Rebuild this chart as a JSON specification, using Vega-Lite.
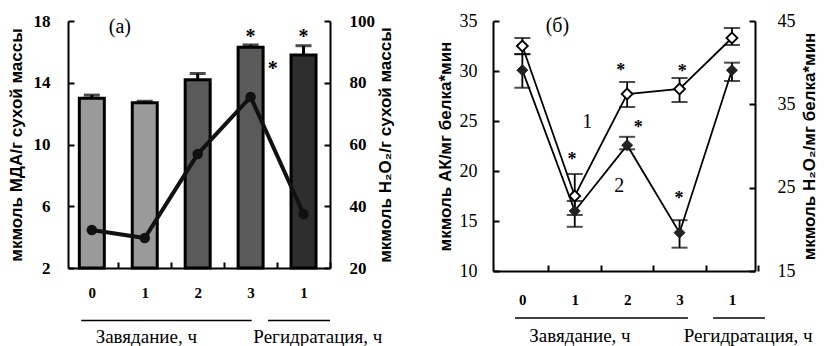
{
  "$schema": "https://vega.github.io/schema/vega-lite/v6.json",
  "background": "white",
  "padding": {"left": 6, "top": 12, "right": 2, "bottom": 0},
  "spacing": 42,
  "config": {
    "view": {"stroke": null},
    "font": "Liberation Serif",
    "axis": {"grid": false, "domainColor": "black", "tickColor": "black", "labelColor": "black", "titleColor": "black", "domainWidth": 2, "tickWidth": 2, "labelFlush": false}
  },
  "datasets": {
    "mda": [
      {"t": 0, "mda": 13.0, "hi": 13.2, "h2o2": 32.3},
      {"t": 1, "mda": 12.7, "hi": 12.8, "h2o2": 29.7},
      {"t": 2, "mda": 14.2, "hi": 14.6, "h2o2": 56.9},
      {"t": 3, "mda": 16.3, "hi": 16.45, "h2o2": 75.4},
      {"t": 4, "mda": 15.8, "hi": 16.4, "h2o2": 37.5}
    ],
    "starsA": [
      {"t": 3, "y": 17.3},
      {"t": 4, "y": 17.3},
      {"t": 3.42, "y": 15.2}
    ],
    "labelsA": [
      {"t": 0.53, "y": 17.6, "label": "(а)"}
    ],
    "groupsA": [
      {"x1": -0.2, "x2": 3.02, "y": -1.4},
      {"x1": 3.33, "x2": 4.5, "y": -1.4}
    ],
    "groupTextA": [
      {"t": 1.03, "y": -2.45, "label": "Завядание, ч"},
      {"t": 4.27, "y": -2.45, "label": "Регидратация, ч"}
    ],
    "s1": [
      {"t": 0, "v": 32.5, "lo": 31.7, "hi": 33.3},
      {"t": 1, "v": 17.5, "lo": 15.6, "hi": 19.7},
      {"t": 2, "v": 27.7, "lo": 26.4, "hi": 28.9},
      {"t": 3, "v": 28.2, "lo": 26.9, "hi": 29.3},
      {"t": 4, "v": 33.3, "lo": 32.6, "hi": 34.3}
    ],
    "s2": [
      {"t": 0, "v": 39.1, "lo": 37.0, "hi": 41.0},
      {"t": 1, "v": 22.2, "lo": 20.3, "hi": 23.4},
      {"t": 2, "v": 30.1, "lo": 29.6, "hi": 31.1},
      {"t": 3, "v": 19.6, "lo": 17.8, "hi": 21.1},
      {"t": 4, "v": 39.1, "lo": 37.8, "hi": 40.0}
    ],
    "starsB": [
      {"t": 0.95, "y": 21.6},
      {"t": 1.88, "y": 30.5},
      {"t": 2.21, "y": 24.8},
      {"t": 3.05, "y": 30.4},
      {"t": 2.99, "y": 17.7}
    ],
    "labelsB": [
      {"t": 0.67, "y": 34.5, "label": "(б)"},
      {"t": 1.24, "y": 24.9, "label": "1"},
      {"t": 1.85, "y": 18.5, "label": "2"}
    ],
    "groupsB": [
      {"x1": -0.14, "x2": 3.16, "y": 5.3},
      {"x1": 3.64, "x2": 4.63, "y": 5.3}
    ],
    "groupTextB": [
      {"t": 1.10, "y": 3.5, "label": "Завядание, ч"},
      {"t": 4.31, "y": 3.5, "label": "Регидратация, ч"}
    ]
  },
  "hconcat": [
    {
      "width": 262,
      "height": 247,
      "layer": [
        {
          "data": {"name": "mda"},
          "mark": {"type": "bar", "size": 25, "stroke": "black", "strokeWidth": 3},
          "encoding": {
            "x": {"field": "t", "type": "quantitative", "scale": {"domain": [-0.45, 4.5], "nice": false, "zero": false, "padding": 0},
              "axis": {"values": [0, 1, 2, 3, 4], "labelExpr": "datum.value == 4 ? '1' : datum.label", "tickOffset": 26.5, "labelOffset": -26.5, "tickSize": -6, "labelFontSize": 15, "labelFontWeight": "bold", "labelPadding": 23, "title": null}},
            "y": {"field": "mda", "type": "quantitative", "scale": {"domain": [2, 18], "nice": false, "zero": false},
              "axis": {"values": [2, 6, 10, 14, 18], "tickSize": -6, "labelFontSize": 17, "labelFontWeight": "bold", "labelPadding": 24, "title": "мкмоль МДА/г сухой массы", "titleFont": "Liberation Sans", "titleFontSize": 17, "titleFontWeight": "bold", "titlePadding": 8}},
            "y2": {"datum": 2},
            "fill": {"condition": [{"test": "datum.t >= 4", "value": "#2e2e2e"}, {"test": "datum.t >= 2", "value": "#5a5a5a"}], "value": "#9a9a9a"}
          }
        },
        {
          "data": {"name": "mda"},
          "mark": {"type": "rule", "strokeWidth": 3, "color": "black"},
          "encoding": {
            "x": {"field": "t", "type": "quantitative"},
            "y": {"field": "mda", "type": "quantitative", "scale": {"domain": [2, 18], "nice": false, "zero": false}, "axis": null},
            "y2": {"field": "hi"}
          }
        },
        {
          "data": {"name": "mda"},
          "mark": {"type": "tick", "orient": "horizontal", "size": 16, "thickness": 3, "color": "black"},
          "encoding": {
            "x": {"field": "t", "type": "quantitative"},
            "y": {"field": "hi", "type": "quantitative", "scale": {"domain": [2, 18], "nice": false, "zero": false}, "axis": null}
          }
        },
        {
          "data": {"name": "starsA"},
          "mark": {"type": "text", "text": "*", "fontSize": 20, "fontWeight": "bold", "baseline": "middle", "dy": 5, "color": "black"},
          "encoding": {
            "x": {"field": "t", "type": "quantitative"},
            "y": {"field": "y", "type": "quantitative", "scale": {"domain": [2, 18], "nice": false, "zero": false}, "axis": null}
          }
        },
        {
          "data": {"name": "labelsA"},
          "mark": {"type": "text", "fontSize": 20, "baseline": "middle", "color": "black"},
          "encoding": {
            "x": {"field": "t", "type": "quantitative"},
            "y": {"field": "y", "type": "quantitative", "scale": {"domain": [2, 18], "nice": false, "zero": false}, "axis": null},
            "text": {"field": "label"}
          }
        },
        {
          "data": {"name": "groupsA"},
          "mark": {"type": "rule", "strokeWidth": 1.5, "color": "black"},
          "encoding": {
            "x": {"field": "x1", "type": "quantitative"},
            "x2": {"field": "x2"},
            "y": {"field": "y", "type": "quantitative", "scale": {"domain": [2, 18], "nice": false, "zero": false}, "axis": null}
          }
        },
        {
          "data": {"name": "groupTextA"},
          "mark": {"type": "text", "fontSize": 19, "baseline": "middle", "color": "black"},
          "encoding": {
            "x": {"field": "t", "type": "quantitative"},
            "y": {"field": "y", "type": "quantitative", "scale": {"domain": [2, 18], "nice": false, "zero": false}, "axis": null},
            "text": {"field": "label"}
          }
        },
        {
          "data": {"name": "mda"},
          "mark": {"type": "line", "strokeWidth": 4, "color": "#111"},
          "encoding": {
            "x": {"field": "t", "type": "quantitative"},
            "y": {"field": "h2o2", "type": "quantitative", "scale": {"domain": [20, 100], "nice": false, "zero": false},
              "axis": {"orient": "right", "values": [20, 40, 60, 80, 100], "tickSize": -6, "labelFontSize": 17, "labelFontWeight": "bold", "labelPadding": 25, "title": "мкмоль H₂O₂/г сухой массы", "titleAngle": 270, "titleBaseline": "top", "titleFont": "Liberation Sans", "titleFontSize": 17, "titleFontWeight": "bold", "titlePadding": 3}}
          }
        },
        {
          "data": {"name": "mda"},
          "mark": {"type": "point", "shape": "circle", "filled": true, "size": 110, "color": "#111", "opacity": 1},
          "encoding": {
            "x": {"field": "t", "type": "quantitative"},
            "y": {"field": "h2o2", "type": "quantitative", "scale": {"domain": [20, 100], "nice": false, "zero": false}, "axis": null}
          }
        }
      ],
      "resolve": {"scale": {"y": "independent"}}
    },
    {
      "width": 262,
      "height": 250,
      "layer": [
        {
          "data": {"name": "s1"},
          "mark": {"type": "line", "strokeWidth": 1.8, "color": "black"},
          "encoding": {
            "x": {"field": "t", "type": "quantitative", "scale": {"domain": [-0.56, 4.44], "nice": false, "zero": false, "padding": 0},
              "axis": {"values": [0, 1, 2, 3, 4], "labelExpr": "datum.value == 4 ? '1' : datum.label", "tickOffset": 26, "labelOffset": -26, "tickSize": -6, "labelFontSize": 15, "labelFontWeight": "bold", "labelPadding": 27, "title": null}},
            "y": {"field": "v", "type": "quantitative", "scale": {"domain": [10, 35], "nice": false, "zero": false},
              "axis": {"values": [10, 15, 20, 25, 30, 35], "tickSize": -6, "labelFontSize": 18, "labelPadding": 22, "title": "мкмоль АК/мг белка*мин", "titleFont": "Liberation Sans", "titleFontSize": 17, "titleFontWeight": "bold", "titlePadding": 5}}
          }
        },
        {
          "data": {"name": "s1"},
          "mark": {"type": "rule", "strokeWidth": 1.8, "color": "black"},
          "encoding": {
            "x": {"field": "t", "type": "quantitative"},
            "y": {"field": "lo", "type": "quantitative", "scale": {"domain": [10, 35], "nice": false, "zero": false}, "axis": null},
            "y2": {"field": "hi"}
          }
        },
        {
          "data": {"name": "s1"},
          "mark": {"type": "tick", "orient": "horizontal", "size": 16, "thickness": 2, "color": "black"},
          "encoding": {
            "x": {"field": "t", "type": "quantitative"},
            "y": {"field": "lo", "type": "quantitative", "scale": {"domain": [10, 35], "nice": false, "zero": false}, "axis": null}
          }
        },
        {
          "data": {"name": "s1"},
          "mark": {"type": "tick", "orient": "horizontal", "size": 16, "thickness": 2, "color": "black"},
          "encoding": {
            "x": {"field": "t", "type": "quantitative"},
            "y": {"field": "hi", "type": "quantitative", "scale": {"domain": [10, 35], "nice": false, "zero": false}, "axis": null}
          }
        },
        {
          "data": {"name": "s2"},
          "mark": {"type": "line", "strokeWidth": 1.8, "color": "black"},
          "encoding": {
            "x": {"field": "t", "type": "quantitative"},
            "y": {"field": "v", "type": "quantitative", "scale": {"domain": [15, 45], "nice": false, "zero": false},
              "axis": {"orient": "right", "values": [15, 25, 35, 45], "tickSize": -6, "labelFontSize": 18, "labelPadding": 28, "title": "мкмоль H₂O₂/мг белка*мин", "titleAngle": 270, "titleBaseline": "top", "titleFont": "Liberation Sans", "titleFontSize": 17, "titleFontWeight": "bold", "titlePadding": 6}}
          }
        },
        {
          "data": {"name": "s2"},
          "mark": {"type": "rule", "strokeWidth": 1.8, "color": "black"},
          "encoding": {
            "x": {"field": "t", "type": "quantitative"},
            "y": {"field": "lo", "type": "quantitative", "scale": {"domain": [15, 45], "nice": false, "zero": false}, "axis": null},
            "y2": {"field": "hi"}
          }
        },
        {
          "data": {"name": "s2"},
          "mark": {"type": "tick", "orient": "horizontal", "size": 16, "thickness": 2, "color": "black"},
          "encoding": {
            "x": {"field": "t", "type": "quantitative"},
            "y": {"field": "lo", "type": "quantitative", "scale": {"domain": [15, 45], "nice": false, "zero": false}, "axis": null}
          }
        },
        {
          "data": {"name": "s2"},
          "mark": {"type": "tick", "orient": "horizontal", "size": 16, "thickness": 2, "color": "black"},
          "encoding": {
            "x": {"field": "t", "type": "quantitative"},
            "y": {"field": "hi", "type": "quantitative", "scale": {"domain": [15, 45], "nice": false, "zero": false}, "axis": null}
          }
        },
        {
          "data": {"name": "s2"},
          "mark": {"type": "point", "shape": "diamond", "filled": true, "fill": "#222", "stroke": "#222", "strokeWidth": 1, "size": 120, "opacity": 1},
          "encoding": {
            "x": {"field": "t", "type": "quantitative"},
            "y": {"field": "v", "type": "quantitative", "scale": {"domain": [15, 45], "nice": false, "zero": false}, "axis": null}
          }
        },
        {
          "data": {"name": "s1"},
          "mark": {"type": "point", "shape": "diamond", "filled": true, "fill": "white", "stroke": "black", "strokeWidth": 1.8, "size": 120, "opacity": 1},
          "encoding": {
            "x": {"field": "t", "type": "quantitative"},
            "y": {"field": "v", "type": "quantitative", "scale": {"domain": [10, 35], "nice": false, "zero": false}, "axis": null}
          }
        },
        {
          "data": {"name": "starsB"},
          "mark": {"type": "text", "text": "*", "fontSize": 18, "fontWeight": "bold", "baseline": "middle", "dy": 5, "color": "black"},
          "encoding": {
            "x": {"field": "t", "type": "quantitative"},
            "y": {"field": "y", "type": "quantitative", "scale": {"domain": [10, 35], "nice": false, "zero": false}, "axis": null}
          }
        },
        {
          "data": {"name": "labelsB"},
          "mark": {"type": "text", "fontSize": 20, "baseline": "middle", "color": "black"},
          "encoding": {
            "x": {"field": "t", "type": "quantitative"},
            "y": {"field": "y", "type": "quantitative", "scale": {"domain": [10, 35], "nice": false, "zero": false}, "axis": null},
            "text": {"field": "label"}
          }
        },
        {
          "data": {"name": "groupsB"},
          "mark": {"type": "rule", "strokeWidth": 1.5, "color": "black"},
          "encoding": {
            "x": {"field": "x1", "type": "quantitative"},
            "x2": {"field": "x2"},
            "y": {"field": "y", "type": "quantitative", "scale": {"domain": [10, 35], "nice": false, "zero": false}, "axis": null}
          }
        },
        {
          "data": {"name": "groupTextB"},
          "mark": {"type": "text", "fontSize": 19, "baseline": "middle", "color": "black"},
          "encoding": {
            "x": {"field": "t", "type": "quantitative"},
            "y": {"field": "y", "type": "quantitative", "scale": {"domain": [10, 35], "nice": false, "zero": false}, "axis": null},
            "text": {"field": "label"}
          }
        }
      ],
      "resolve": {"scale": {"y": "independent"}}
    }
  ]
}
